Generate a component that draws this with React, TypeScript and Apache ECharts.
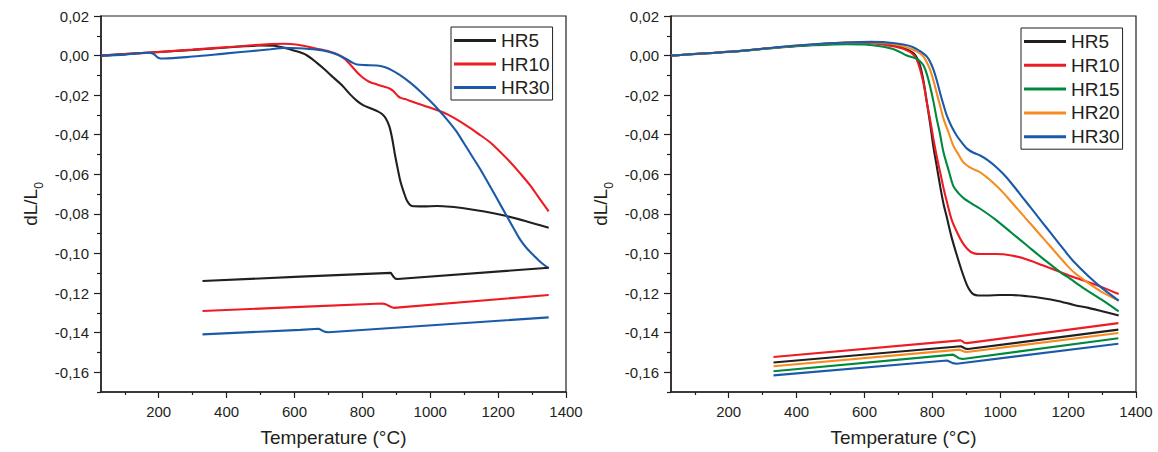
import React, { useEffect, useRef } from "react";
import * as echarts from "echarts";

// ---------- tick values ----------
const xMajorTicks = [200, 400, 600, 800, 1000, 1200, 1400];
const xMinorTicks = [100, 300, 500, 700, 900, 1100, 1300];
const yMajorTicks = [-0.16, -0.14, -0.12, -0.1, -0.08, -0.06, -0.04, -0.02, 0, 0.02];
const yMinorTicks = [-0.17, -0.15, -0.13, -0.11, -0.09, -0.07, -0.05, -0.03, -0.01, 0.01];

// ---------- left panel ----------
const leftHR5Heat = [[30,0],[150,0.0013],[300,0.0029],[420,0.0043],[500,0.0051],[540,0.005],[567,0.0041],[600,0.0025],[635,0.0003],[666,-0.0037],[690,-0.0072],[714,-0.011],[740,-0.015],[764,-0.0196],[785,-0.023],[802,-0.025],[825,-0.0267],[843,-0.028],[858,-0.0295],[870,-0.032],[880,-0.036],[888,-0.042],[896,-0.05],[904,-0.057],[912,-0.0635],[922,-0.069],[932,-0.0735],[946,-0.076],[980,-0.0762],[1020,-0.076],[1060,-0.0764],[1108,-0.0774],[1160,-0.0788],[1215,-0.0807],[1280,-0.0836],[1349,-0.087]];
const leftHR10Heat = [[30,0],[174,0.0015],[300,0.003],[420,0.0045],[528,0.0058],[567,0.006],[610,0.0055],[666,0.0035],[700,0.0022],[729,0.0005],[750,-0.002],[764,-0.0045],[785,-0.0085],[802,-0.0112],[820,-0.0132],[843,-0.0146],[865,-0.0158],[880,-0.0166],[892,-0.018],[905,-0.0205],[915,-0.0215],[926,-0.022],[950,-0.0235],[980,-0.0252],[1039,-0.0288],[1070,-0.0315],[1108,-0.0355],[1140,-0.0393],[1177,-0.0439],[1205,-0.0485],[1236,-0.0539],[1265,-0.0595],[1295,-0.0657],[1320,-0.0718],[1349,-0.0787]];
const leftHR30Heat = [[30,0],[100,0.0005],[170,0.0014],[185,0.0008],[200,-0.0012],[215,-0.0015],[300,-0.0005],[400,0.0011],[469,0.0022],[530,0.0032],[567,0.0039],[610,0.0037],[666,0.003],[700,0.002],[725,0.0005],[750,-0.0015],[770,-0.0035],[784,-0.0045],[810,-0.0048],[843,-0.005],[865,-0.0058],[882,-0.007],[910,-0.0098],[941,-0.0137],[970,-0.018],[1000,-0.023],[1025,-0.0275],[1049,-0.0322],[1075,-0.0378],[1098,-0.0439],[1122,-0.0505],[1147,-0.0573],[1172,-0.0648],[1197,-0.0724],[1222,-0.08],[1246,-0.0874],[1265,-0.093],[1285,-0.0975],[1305,-0.101],[1324,-0.1042],[1349,-0.1075]];
const leftHR5Cool = [[329,-0.1139],[617,-0.1117],[884,-0.1098],[892,-0.1118],[897,-0.1127],[904,-0.1129],[1349,-0.1072]];
const leftHR10Cool = [[329,-0.1291],[617,-0.127],[858,-0.1253],[868,-0.1256],[882,-0.1268],[892,-0.1275],[1349,-0.121]];
const leftHR30Cool = [[329,-0.1409],[617,-0.1386],[671,-0.138],[680,-0.1388],[690,-0.1396],[700,-0.1398],[1349,-0.1323]];

// ---------- right panel ----------
const rightHR5Heat = [[30,0],[200,0.0019],[351,0.0042],[450,0.0055],[548,0.0064],[620,0.0065],[680,0.0052],[720,0.0035],[744,0.0012],[754,-0.001],[764,-0.0052],[774,-0.013],[784,-0.0238],[794,-0.035],[803,-0.046],[813,-0.056],[823,-0.066],[833,-0.075],[843,-0.082],[857,-0.092],[872,-0.1008],[887,-0.109],[902,-0.116],[912,-0.119],[921,-0.1206],[935,-0.1212],[960,-0.1212],[1000,-0.121],[1033,-0.121],[1080,-0.1216],[1125,-0.1226],[1170,-0.124],[1217,-0.126],[1260,-0.1275],[1300,-0.1292],[1349,-0.1313]];
const rightHR10Heat = [[30,0],[200,0.0019],[351,0.0042],[450,0.0055],[548,0.0064],[620,0.0063],[680,0.0048],[720,0.003],[744,0.0005],[754,-0.002],[764,-0.007],[774,-0.014],[784,-0.024],[794,-0.033],[803,-0.042],[813,-0.051],[823,-0.059],[833,-0.067],[843,-0.074],[857,-0.083],[872,-0.089],[887,-0.094],[902,-0.0975],[916,-0.0995],[931,-0.1002],[960,-0.1003],[987,-0.1003],[1033,-0.101],[1079,-0.103],[1125,-0.106],[1171,-0.109],[1217,-0.112],[1260,-0.1145],[1300,-0.117],[1349,-0.1205]];
const rightHR15Heat = [[30,0],[200,0.0018],[351,0.0041],[450,0.0052],[548,0.0058],[600,0.0056],[646,0.0047],[690,0.003],[725,0.0],[754,-0.0016],[764,-0.003],[774,-0.005],[784,-0.0095],[793,-0.0154],[803,-0.023],[813,-0.032],[823,-0.04],[833,-0.049],[848,-0.058],[862,-0.066],[877,-0.0695],[892,-0.072],[916,-0.0748],[941,-0.0774],[987,-0.083],[1033,-0.0895],[1079,-0.096],[1125,-0.1025],[1170,-0.1085],[1185,-0.1105],[1195,-0.1115],[1250,-0.118],[1300,-0.1235],[1349,-0.1293]];
const rightHR20Heat = [[30,0],[200,0.0019],[351,0.0043],[450,0.0057],[548,0.0066],[610,0.0068],[680,0.006],[730,0.0038],[760,0.0015],[774,-0.0005],[784,-0.0035],[793,-0.007],[803,-0.0125],[813,-0.019],[823,-0.0255],[833,-0.032],[848,-0.039],[862,-0.0456],[877,-0.05],[892,-0.054],[916,-0.057],[941,-0.059],[964,-0.062],[987,-0.0655],[1010,-0.0695],[1033,-0.074],[1056,-0.0785],[1079,-0.083],[1102,-0.0875],[1125,-0.092],[1148,-0.0965],[1171,-0.101],[1194,-0.1055],[1217,-0.1095],[1260,-0.115],[1300,-0.1195],[1349,-0.1238]];
const rightHR30Heat = [[30,0],[200,0.0019],[351,0.0043],[450,0.0057],[548,0.0066],[620,0.0069],[690,0.0062],[740,0.0045],[770,0.0015],[784,-0.0005],[793,-0.003],[803,-0.007],[813,-0.0125],[823,-0.019],[833,-0.025],[843,-0.0305],[857,-0.036],[872,-0.0405],[887,-0.044],[902,-0.047],[920,-0.049],[941,-0.0505],[964,-0.053],[987,-0.0562],[1010,-0.06],[1033,-0.0645],[1056,-0.0695],[1079,-0.0745],[1102,-0.0795],[1125,-0.0845],[1148,-0.0895],[1171,-0.0945],[1194,-0.0995],[1217,-0.1042],[1260,-0.1115],[1300,-0.1175],[1349,-0.1238]];
const rightHR10Cool = [[332,-0.1523],[882,-0.1439],[888,-0.1443],[894,-0.1451],[902,-0.1453],[1348,-0.1352]];
const rightHR5Cool = [[332,-0.1551],[884,-0.1469],[890,-0.1474],[897,-0.1481],[905,-0.1483],[1348,-0.1385]];
const rightHR20Cool = [[332,-0.157],[880,-0.1486],[886,-0.149],[894,-0.1496],[902,-0.1498],[1348,-0.1402]];
const rightHR15Cool = [[332,-0.1595],[861,-0.1511],[868,-0.1518],[878,-0.1529],[890,-0.1533],[1348,-0.1428]];
const rightHR30Cool = [[332,-0.1616],[843,-0.1541],[850,-0.1546],[860,-0.1554],[872,-0.1557],[1348,-0.1456]];

const leftLegend = ["HR5", "HR10", "HR30"];
const rightLegend = ["HR5", "HR10", "HR15", "HR20", "HR30"];

const COLORS: Record<string, string> = {
  HR5: "#231f20",
  HR10: "#ed1c24",
  HR15: "#00893e",
  HR20: "#f68b1f",
  HR30: "#1b5aa8",
};

const FONT = "'Liberation Sans', Arial, Helvetica, sans-serif";
const AX = "#231f20";

function fmtY(v: number) {
  return v.toFixed(2).replace(".", ",");
}

export default function App() {
  const ref = useRef<HTMLDivElement>(null);
  useEffect(() => {
    if (!ref.current) return;
    const chart = echarts.init(ref.current, undefined, { renderer: "svg" });
    const grids = [
      { left: 101, top: 16, width: 465, height: 376 },
      { left: 671, top: 16, width: 465, height: 376 },
    ].map((g) => ({ ...g, show: true, borderColor: AX, borderWidth: 1.2, backgroundColor: "transparent" }));

    const mainX = (gi: number) => ({
      type: "value",
      gridIndex: gi,
      min: 30,
      max: 1400,
      position: "bottom",
      name: "Temperature (°C)",
      nameLocation: "middle",
      nameGap: 36,
      nameTextStyle: { fontSize: 19, color: AX, fontFamily: FONT },
      axisLine: { show: true, onZero: false, lineStyle: { color: AX, width: 1.5 } },
      axisTick: { show: true, customValues: xMajorTicks, length: 6, lineStyle: { color: AX, width: 1.2 } },
      axisLabel: { customValues: xMajorTicks, fontSize: 15, color: AX, fontFamily: FONT, margin: 12, formatter: (v: number) => String(Math.round(v)) },
      splitLine: { show: false },
    });
    const minorX = (gi: number) => ({
      type: "value",
      gridIndex: gi,
      min: 30,
      max: 1400,
      position: "bottom",
      axisLine: { show: false, onZero: false },
      axisTick: { show: true, customValues: xMinorTicks, length: 3, lineStyle: { color: AX, width: 1.2 } },
      axisLabel: { show: false },
      splitLine: { show: false },
    });
    const mainY = (gi: number) => ({
      type: "value",
      gridIndex: gi,
      min: -0.17,
      max: 0.02,
      position: "left",
      name: "{a|dL/L}{b|0}",
      nameLocation: "middle",
      nameGap: 56,
      nameTextStyle: {
        color: AX,
        fontFamily: FONT,
        rich: {
          a: { fontSize: 19, color: AX, fontFamily: FONT, verticalAlign: "bottom", padding: [0, 0, 5, 0] },
          b: { fontSize: 12, color: AX, fontFamily: FONT, verticalAlign: "bottom" },
        },
      },
      axisLine: { show: true, onZero: false, lineStyle: { color: AX, width: 1.5 } },
      axisTick: { show: true, customValues: yMajorTicks, length: 7, lineStyle: { color: AX, width: 1.2 } },
      axisLabel: { customValues: yMajorTicks, fontSize: 15, color: AX, fontFamily: FONT, margin: 12, formatter: (v: number) => fmtY(v) },
      splitLine: { show: false },
    });
    const minorY = (gi: number) => ({
      type: "value",
      gridIndex: gi,
      min: -0.17,
      max: 0.02,
      position: "left",
      axisLine: { show: false, onZero: false },
      axisTick: { show: true, customValues: yMinorTicks, length: 4, lineStyle: { color: AX, width: 1.2 } },
      axisLabel: { show: false },
      splitLine: { show: false },
    });

    const mk = (name: string, data: number[][], gi: number, smooth: number | boolean) => ({
      type: "line",
      name,
      xAxisIndex: gi,
      yAxisIndex: gi,
      data,
      smooth,
      symbol: "none",
      showSymbol: false,
      lineStyle: { color: COLORS[name], width: 2.1 },
      itemStyle: { color: COLORS[name] },
    });

    const series = [
      mk("HR5", leftHR5Heat, 0, 0.3),
      mk("HR10", leftHR10Heat, 0, 0.3),
      mk("HR30", leftHR30Heat, 0, 0.3),
      mk("HR5", leftHR5Cool, 0, false),
      mk("HR10", leftHR10Cool, 0, false),
      mk("HR30", leftHR30Cool, 0, false),
      mk("HR5", rightHR5Heat, 1, 0.3),
      mk("HR10", rightHR10Heat, 1, 0.3),
      mk("HR15", rightHR15Heat, 1, 0.3),
      mk("HR20", rightHR20Heat, 1, 0.3),
      mk("HR30", rightHR30Heat, 1, 0.3),
      mk("HR10", rightHR10Cool, 1, false),
      mk("HR5", rightHR5Cool, 1, false),
      mk("HR20", rightHR20Cool, 1, false),
      mk("HR15", rightHR15Cool, 1, false),
      mk("HR30", rightHR30Cool, 1, false),
    ];

    const legendBase = {
      orient: "vertical",
      icon: "rect",
      itemWidth: 42,
      itemHeight: 3,
      borderColor: AX,
      borderWidth: 1,
      borderRadius: 0,
      backgroundColor: "#fff",
      padding: [4, 3, 3, 3],
      textStyle: { fontSize: 19, color: AX, fontFamily: FONT, lineHeight: 19 },
      selectedMode: false,
    };

    chart.setOption({
      animation: false,
      backgroundColor: "#fff",
      textStyle: { fontFamily: FONT },
      grid: grids,
      xAxis: [mainX(0), mainX(1), minorX(0), minorX(1)],
      yAxis: [mainY(0), mainY(1), minorY(0), minorY(1)],
      legend: [
        { ...legendBase, data: leftLegend, left: 451, top: 27, itemGap: 4.5 },
        { ...legendBase, data: rightLegend, left: 1021, top: 28, itemGap: 4.8 },
      ],
      series,
    });
    return () => chart.dispose();
  }, []);
  return <div ref={ref} style={{ position: "fixed", left: 0, top: 0, width: 1158, height: 452 }} />;
}
